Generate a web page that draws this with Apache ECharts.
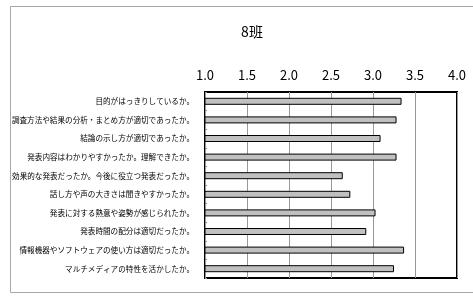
<!DOCTYPE html>
<html>
<head>
<meta charset="utf-8">
<script src="https://cdn.jsdelivr.net/npm/echarts@6/dist/echarts.min.js"></script>
<style>
  html, body { margin: 0; padding: 0; background: #fff; }
  #chart { width: 473px; height: 304px; }
</style>
</head>
<body>
<div id="chart"></div>
<script>
// 評価項目
const categories = [
  '目的がはっきりしているか。',
  '調査方法や結果の分析・まとめ方が適切であったか。',
  '結論の示し方が適切であったか。',
  '発表内容はわかりやすかったか。理解できたか。',
  '効果的な発表だったか。今後に役立つ発表だったか。',
  '話し方や声の大きさは聞きやすかったか。',
  '発表に対する熱意や姿勢が感じられたか。',
  '発表時間の配分は適切だったか。',
  '情報機器やソフトウェアの使い方は適切だったか。',
  'マルチメディアの特性を活かしたか。'
];
// 平均点
const scores = [3.34, 3.28, 3.09, 3.28, 2.64, 2.73, 3.03, 2.92, 3.37, 3.25];
const axisMin = 1.0;
const axisMax = 4.0;

const font = '"Noto Sans CJK JP", sans-serif';
const chart = echarts.init(document.getElementById('chart'));

chart.setOption({
  backgroundColor: '#fff',
  animation: false,
  title: {
    text: '8班',
    left: 247,
    top: 20,
    textAlign: 'center',
    textStyle: { fontFamily: font, fontSize: 14, fontWeight: 'normal', color: '#000' }
  },
  graphic: [{
    type: 'rect',
    shape: { x: 10.5, y: 6.5, width: 480, height: 286 },
    style: { fill: 'none', stroke: '#a8a8a8', lineWidth: 1 },
    silent: true
  }],
  grid: {
    left: 205, right: 16, top: 92, bottom: 26,
    show: true, borderColor: '#000', borderWidth: 2, backgroundColor: 'transparent'
  },
  xAxis: {
    type: 'value',
    position: 'top',
    min: axisMin,
    max: axisMax,
    interval: 0.5,
    axisLine: { show: false },
    axisTick: { show: false },
    axisLabel: {
      color: '#000', fontSize: 13, fontFamily: font, margin: 10,
      formatter: v => v.toFixed(1)
    },
    splitLine: { lineStyle: { color: '#999', width: 1 } }
  },
  yAxis: {
    type: 'category',
    data: categories,
    inverse: true,
    axisLine: { show: false },
    axisTick: { show: true, inside: true, length: 2, lineStyle: { color: '#888' } },
    axisLabel: { color: '#000', fontSize: 7.6, fontFamily: font, margin: 11 }
  },
  series: [{
    type: 'bar',
    data: scores,
    barWidth: 7,
    itemStyle: { color: '#c0c0c0', borderColor: '#000', borderWidth: 1 }
  }]
});
</script>
</body>
</html>
